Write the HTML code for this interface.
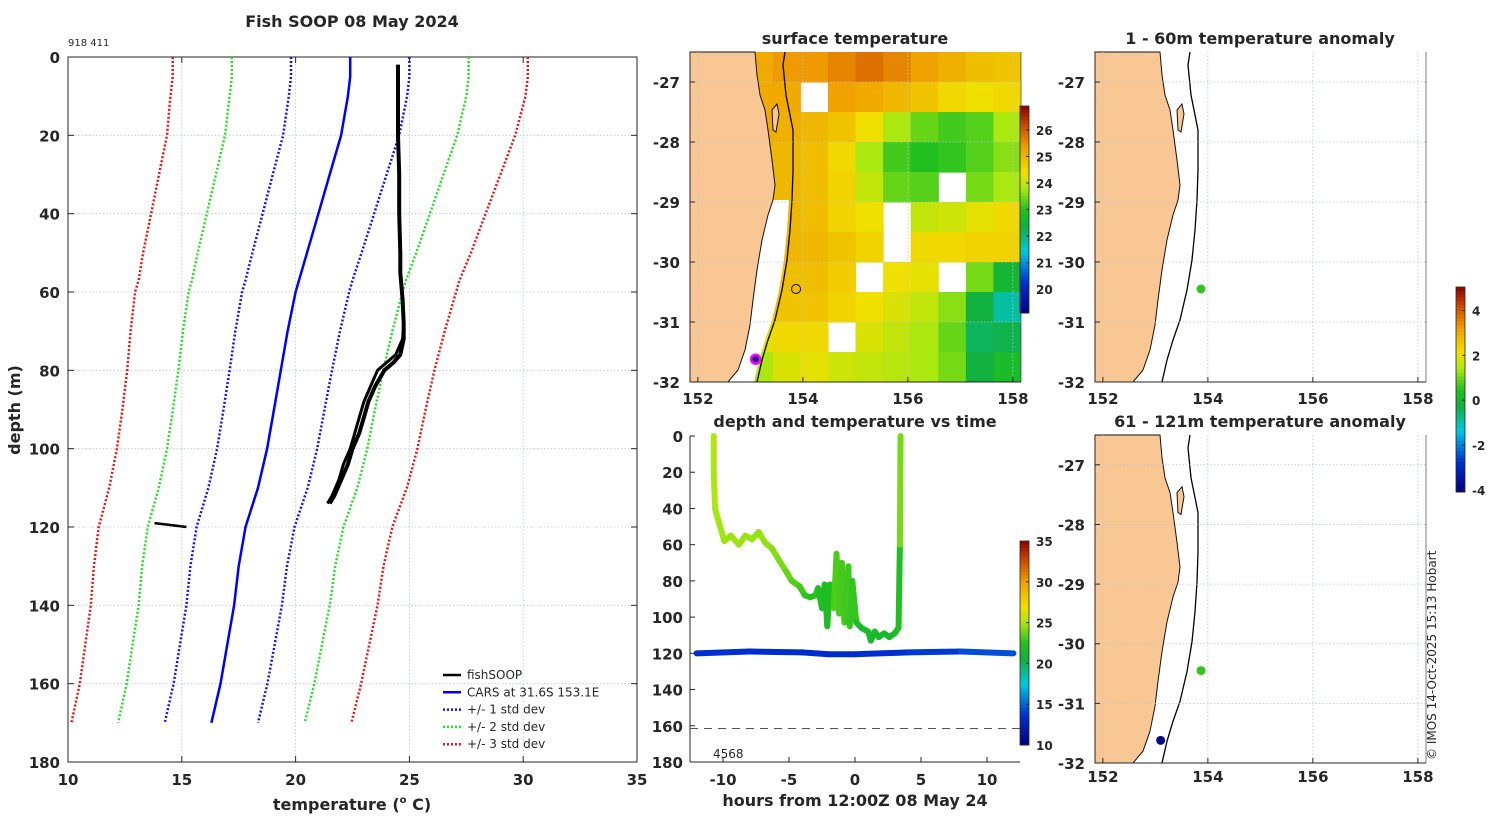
<!DOCTYPE html>
<html><head><meta charset="utf-8"><style>
html,body{margin:0;padding:0;background:#fff;}
svg{display:block;}
</style></head><body>
<svg id="chart" width="1500" height="820" viewBox="0 0 1500 820" xmlns="http://www.w3.org/2000/svg"></svg>
<script>
// ---------- data ----------
const cDepth=[0,5,10,20,30,40,50,57,60,70,80,90,100,110,120,130,140,150,160,170];
const cMean=[22.4,22.4,22.3,22.0,21.5,21.0,20.5,20.15,20.0,19.65,19.35,19.05,18.75,18.35,17.8,17.5,17.3,17.0,16.7,16.3];
const cStd=[2.6,2.6,2.6,2.55,2.5,2.45,2.4,2.35,2.35,2.3,2.25,2.22,2.2,2.18,2.15,2.12,2.1,2.08,2.06,2.05];
const fDepth=[2,10,20,30,40,50,55,62,68,72,76,78,80,84,88,92,96,100,104,108,112,114];
const fTemp=[24.5,24.5,24.5,24.55,24.55,24.6,24.6,24.7,24.75,24.7,24.4,24.0,23.6,23.3,23.0,22.8,22.6,22.4,22.1,21.9,21.6,21.4];
const fTemp2=[24.5,24.5,24.5,24.55,24.55,24.6,24.6,24.7,24.75,24.75,24.6,24.3,23.9,23.5,23.2,23.0,22.8,22.5,22.3,22.0,21.7,21.5];
const sDepth=[119,119.5,120];
const sTemp=[13.8,14.5,15.2];
const tHour=[-10.7,-10.7,-10.6,-10.3,-9.9,-9.4,-8.8,-8.3,-7.8,-7.3,-6.8,-6.3,-5.8,-5.2,-4.8,-4.2,-3.8,-3.4,-3.0,-2.8,-2.5,-2.3,-2.1,-1.9,-1.6,-1.4,-1.2,-1.0,-0.8,-0.5,-0.4,-0.2,0.1,0.5,1.0,1.2,1.5,1.8,2.2,2.6,3.0,3.3,3.4,3.45];
const tDepth=[0,20,40,48,58,55,60,55,57,53,59,62,68,75,80,83,88,89,88,84,95,82,105,82,95,65,98,70,103,72,105,80,103,106,108,113,108,111,109,111,109,106,60,0];
const tTemp=[25.2,25.2,25.0,24.9,24.8,24.8,24.7,24.7,24.7,24.7,24.6,24.5,24.3,24.0,23.6,23.3,22.8,22.6,22.6,22.8,22.2,22.6,22.0,22.6,22.2,24.6,22.0,24.4,21.9,24.2,21.9,23.8,21.9,21.9,21.8,21.7,21.8,21.8,21.8,21.8,21.8,21.9,23.0,25.2];
const bHour=[-12,-8,-4,-2,0,4,8,12];
const bDepth=[120,119,119.5,120.5,120.5,119.5,119,120];
const bTemp=[13.6,13.6,13.5,13.4,13.5,13.8,14.2,14.8];
const sstGrid=[
[24.6,25,25.2,25.4,25.4,25.6,25.8,25.6,25.3,25.1,24.9,24.8],
[24,25,25.2,25.2,null,25.3,25.2,25,24.8,24.5,24.4,24.5],
[24.4,25,25.2,25.1,25.0,24.8,24.4,23.8,23.4,23.2,23.3,23.8],
[24.4,24.9,25.1,25.0,24.9,24.5,23.8,23.2,23.0,23.1,23.3,23.6],
[24.4,24.8,25,25,24.9,24.6,24.0,23.4,23.3,null,23.5,23.8],
[null,24.7,25,25,24.9,24.6,24.4,null,24.0,24.1,24.3,24.5],
[null,24.6,24.9,25,25,24.8,24.6,null,24.5,24.5,24.6,24.6],
[null,24.4,24.8,24.9,24.9,24.7,null,24.4,24.3,null,23.5,22.6],
[null,24.2,24.6,24.8,24.8,24.6,24.4,24.2,24.0,23.6,22.4,21.8],
[null,23.8,24.3,24.5,24.5,null,24.2,24.0,23.8,23.4,22.2,22.3],
[23.2,23.2,23.8,24.2,24.3,24.1,24,23.9,23.8,23.5,22.4,22.8]];
const dotLon=[153.87,153.1];
const dotLat=[-30.45,-31.62];
const anomTop=[0.6,null];
const anomBot=[0.6,-3.9];
const tempTicks=[10,15,20,25,30,35];
const depthTicks=[0,20,40,60,80,100,120,140,160,180];
const hourTicks=[-10,-5,0,5,10];
const lonTicks=[152,154,156,158];
const latTicks=[-27,-28,-29,-30,-31,-32];

// ---------- helpers ----------
const NS='http://www.w3.org/2000/svg';
const svg=document.getElementById('chart');
const FONT='"DejaVu Sans","Liberation Sans",sans-serif';
function mk(tag,attrs,name,parent){
  const el=document.createElementNS(NS,tag);
  for(const k in attrs) el.setAttribute(k,attrs[k]);
  
  
  (parent||svg).appendChild(el);return el;
}
function txt(x,y,s,name,o){
  const t=mk('text',Object.assign({x:x,y:y,'font-family':FONT,'font-size':15,'font-weight':'bold',fill:'#262626','text-anchor':'middle'},o||{}),name);
  t.textContent=s;return t;
}
function ln(x1,y1,x2,y2,name,o){return mk('line',Object.assign({x1:x1,y1:y1,x2:x2,y2:y2,stroke:'#262626','stroke-width':1},o||{}),name);}
const stops=[[0,[0,0,127]],[0.15,[0,48,210]],[0.3,[0,200,224]],[0.42,[16,176,64]],[0.5,[32,192,32]],[0.6,[168,232,16]],[0.68,[240,224,0]],[0.8,[240,160,0]],[0.9,[208,80,0]],[1,[144,0,0]]];
function cmap(t){t=Math.max(0,Math.min(1,t));
  for(let i=1;i<stops.length;i++){if(t<=stops[i][0]){const a=stops[i-1],b=stops[i],f=(t-a[0])/(b[0]-a[0]);
    const c=a[1].map((v,j)=>Math.round(v+(b[1][j]-v)*f));return 'rgb('+c.join(',')+')';}}
  return 'rgb(144,0,0)';}
const GRID={stroke:'#b8c4dc','stroke-width':0.8,'stroke-dasharray':'1.5,2'};

// ---------- left profile plot ----------
const L={x0:68,y0:57,w:569,h:705};
const pxT=t=>L.x0+(t-10)/25*L.w;
const pyD=d=>L.y0+d/180*L.h;
txt(352,27,'Fish SOOP 08 May 2024','profile-title',{'font-size':16});
txt(68,46,'918 411','profile-id',{'font-size':10,'font-weight':'normal','text-anchor':'start'});
tempTicks.forEach(t=>{if(t>10&&t<35)ln(pxT(t),L.y0,pxT(t),L.y0+L.h,'temp-gridline',GRID);});
depthTicks.forEach(d=>{if(d>0&&d<180)ln(L.x0,pyD(d),L.x0+L.w,pyD(d),'depth-gridline',GRID);});
mk('rect',{x:L.x0,y:L.y0,width:L.w,height:L.h,fill:'none',stroke:'#262626','stroke-width':1},'profile-axes-box');
tempTicks.forEach(t=>{ln(pxT(t),L.y0+L.h,pxT(t),L.y0+L.h-6,'temp-tick');ln(pxT(t),L.y0,pxT(t),L.y0+6,'temp-tick-top');
  txt(pxT(t),785,String(t),'temp-tick-label',{'font-size':15});});
depthTicks.forEach(d=>{ln(L.x0,pyD(d),L.x0+6,pyD(d),'depth-tick');ln(L.x0+L.w,pyD(d),L.x0+L.w-6,pyD(d),'depth-tick-right');
  txt(60,pyD(d)+6,String(d),'depth-tick-label',{'font-size':15,'text-anchor':'end'});});
const xl=txt(352,810,'temperature (','x-axis-title',{'font-size':16});
const sup=document.createElementNS(NS,'tspan');sup.setAttribute('font-size','10');sup.setAttribute('dy','-7');sup.textContent='o';xl.appendChild(sup);
const rest=document.createElementNS(NS,'tspan');rest.setAttribute('dy','7');rest.textContent=' C)';xl.appendChild(rest);
txt(20,410,'depth (m)','y-axis-title',{'font-size':16,transform:'rotate(-90 20 410)'});
function prof(k,col,dash,name,w){
  const pts=cDepth.map((d,i)=>pxT(cMean[i]+k*cStd[i]).toFixed(1)+','+pyD(d).toFixed(1)).join(' ');
  mk('polyline',{points:pts,fill:'none',stroke:col,'stroke-width':w,'stroke-dasharray':dash},name);
}
[[-3,'#ee1111'],[3,'#ee1111'],[-2,'#22e022'],[2,'#22e022'],[-1,'#1010ff'],[1,'#1010ff']].forEach(s=>prof(s[0],s[1],'2,2','std-dev-line',2.5));
prof(0,'#0000ff','none','cars-mean-line',2.5);
mk('polyline',{points:fDepth.map((d,i)=>pxT(fTemp[i]).toFixed(1)+','+pyD(d).toFixed(1)).join(' '),fill:'none',stroke:'#000','stroke-width':3,'stroke-linejoin':'round'},'fishsoop-downcast');
mk('polyline',{points:fDepth.map((d,i)=>pxT(fTemp2[i]).toFixed(1)+','+pyD(d).toFixed(1)).join(' '),fill:'none',stroke:'#000','stroke-width':4,'stroke-linejoin':'round'},'fishsoop-upcast');
mk('polyline',{points:sDepth.map((d,i)=>pxT(sTemp[i]).toFixed(1)+','+pyD(d).toFixed(1)).join(' '),fill:'none',stroke:'#000','stroke-width':2.5},'fishsoop-bottom-segment');
const leg=[['fishSOOP','#000','none'],['CARS at 31.6S 153.1E','#0000ff','none'],['+/- 1 std dev','#1010ff','2,2'],['+/- 2 std dev','#22e022','2,2'],['+/- 3 std dev','#ee1111','2,2']];
leg.forEach((e,i)=>{const y=675+i*17.3;
  ln(443,y,461,y,'legend-swatch',{stroke:e[1],'stroke-width':2.5,'stroke-dasharray':e[2]});
  txt(467,y+4,e[0],'legend-entry',{'font-size':12,'font-weight':'normal','text-anchor':'start'});});

// ---------- depth vs time ----------
const T={x0:690,y0:436,w:330,h:326};
const pxH=h=>855+h*13.2;
const pyT=d=>T.y0+d/180*T.h;
txt(855,427,'depth and temperature vs time','time-plot-title',{'font-size':16});
ln(T.x0,T.y0,T.x0,T.y0+T.h,'time-y-axis');ln(T.x0,T.y0+T.h,T.x0+T.w,T.y0+T.h,'time-x-axis');
depthTicks.forEach(d=>{ln(T.x0,pyT(d),T.x0+5,pyT(d),'time-depth-tick');txt(683,pyT(d)+6,String(d),'time-depth-tick-label',{'font-size':15,'text-anchor':'end'});});
hourTicks.forEach(h=>{ln(pxH(h),T.y0+T.h,pxH(h),T.y0+T.h-5,'hour-tick');txt(pxH(h),785,String(h),'hour-tick-label',{'font-size':15});});
txt(855,806,'hours from 12:00Z 08 May 24','time-x-axis-title',{'font-size':16});
ln(T.x0,pyT(161.5),T.x0+T.w,pyT(161.5),'bottom-depth-line',{stroke:'#555','stroke-dasharray':'8,6'});
txt(713,758,'4568','bottom-depth-label',{'font-size':12,'font-weight':'normal','text-anchor':'start'});
const cT=t=>cmap((t-10)/25);
for(let i=0;i<bHour.length-1;i++){
  ln(pxH(bHour[i]),pyT(bDepth[i]),pxH(bHour[i+1]),pyT(bDepth[i+1]),'sensor-bottom-track',{stroke:cT((bTemp[i]+bTemp[i+1])/2),'stroke-width':6,'stroke-linecap':'round'});}
for(let i=0;i<tHour.length-1;i++){
  ln(pxH(tHour[i]),pyT(tDepth[i]),pxH(tHour[i+1]),pyT(tDepth[i+1]),'sensor-depth-track',{stroke:cT((tTemp[i]+tTemp[i+1])/2),'stroke-width':6,'stroke-linecap':'round'});}
function cbar(x,y0,y1,vmin,vmax,ticks,name){
  const n=60,h=(y1-y0)/n;
  for(let i=0;i<n;i++)mk('rect',{x:x,y:(y1-(i+1)*h).toFixed(2),width:9,height:(h+0.5).toFixed(2),fill:cmap((i+0.5)/n)},name+'-segment');
  mk('rect',{x:x,y:y0,width:9,height:y1-y0,fill:'none',stroke:'#262626','stroke-width':0.8},name+'-frame');
  ticks.forEach(v=>{const y=y1-(v-vmin)/(vmax-vmin)*(y1-y0);ln(x+9,y,x+6,y,name+'-tick');
    txt(x+16,y+5,String(v),name+'-label',{'font-size':12,'text-anchor':'start'});});
}
cbar(1020,541,745,10,35,[10,15,20,25,30,35],'temp-colorbar');

// ---------- maps ----------
const coast=[[65,0],[67,23],[70,43],[75,58],[78,78],[82,108],[85,133],[83,148],[78,163],[72,188],[67,218],[63,248],[60,273],[55,298],[48,318],[38,330]];
const shelf=[[95,0],[93,13],[96,43],[103,78],[103,118],[102,148],[100,178],[97,208],[92,238],[85,268],[78,288],[72,308],[67,330]];
const island=[[82,58],[87,52],[89,62],[86,80],[83,78]];
let clipN=0;
function drawMap(ox,oy,h,title,labelY,sst,anom,name){
  const lon=v=>ox+(v-151.85)*52.5, lat=v=>oy+(-26.5-v)*(h/5.5);
  txt(ox+165,oy-8,title,name+'-title',{'font-size':16});
  const g=mk('g',{},name);
  if(sst){
    const id='clip'+(clipN++);const cp=mk('clipPath',{id:id},'map-clip',g);mk('rect',{x:ox,y:oy,width:331,height:h},'map-clip-rect',cp);
    const gg=mk('g',{'clip-path':'url(#'+id+')'},'sst-grid',g);
    const cw=331/12,rh=h/11;
    sst.forEach((row,r)=>row.forEach((v,c)=>{if(v!==null)mk('rect',{x:(ox+c*cw).toFixed(2),y:(oy+r*rh).toFixed(2),width:(cw+0.6).toFixed(2),height:(rh+0.6).toFixed(2),fill:cmap((v-19.1)/7.8)},'sst-cell',gg);}));
    const wp=coast.filter(p=>p[1]>=140).concat(shelf.filter(p=>p[1]>=140).reverse().map(p=>[p[0]-3,p[1]]));
    mk('polygon',{points:wp.map(p=>(ox+p[0])+','+(oy+p[1]*h/330)).join(' '),fill:'#fff'},'shelf-missing-data',g);
  }
  latTicks.forEach(v=>{if(v>-32)ln(ox,lat(v),ox+331,lat(v),'lat-gridline',GRID);});
  lonTicks.forEach(v=>ln(lon(v),oy,lon(v),oy+h,'lon-gridline',GRID));
  const land=[[0,0]].concat(coast,[[0,330]]);
  mk('polygon',{points:land.map(p=>(ox+p[0])+','+(oy+p[1]*h/330)).join(' '),fill:'#f9c794',stroke:'#111','stroke-width':1},'land',g);
  mk('polygon',{points:island.map(p=>(ox+p[0])+','+(oy+p[1]*h/330)).join(' '),fill:'#f9c794',stroke:'#111','stroke-width':1},'island',g);
  mk('polyline',{points:shelf.map(p=>(ox+p[0])+','+(oy+p[1]*h/330)).join(' '),fill:'none',stroke:'#000','stroke-width':1.3},'shelf-contour',g);
  ln(ox,oy,ox,oy+h,name+'-y-axis');ln(ox,oy+h,ox+331,oy+h,name+'-x-axis');
  ln(ox+331,oy,ox+331,oy+h,name+'-right-edge',{stroke:'#262626','stroke-width':0.6});
  latTicks.forEach(v=>{ln(ox,lat(v),ox+5,lat(v),'lat-tick');txt(ox-10,lat(v)+6,String(v),'lat-tick-label',{'font-size':15,'text-anchor':'end'});});
  lonTicks.forEach(v=>{ln(lon(v),oy+h,lon(v),oy+h-5,'lon-tick');txt(lon(v),labelY,String(v),'lon-tick-label',{'font-size':15});});
  if(sst){
    mk('circle',{cx:lon(dotLon[0]),cy:lat(dotLat[0]),r:4.5,fill:'none',stroke:'#000','stroke-width':1},'sensor-location',g);
    mk('circle',{cx:lon(dotLon[1]),cy:lat(dotLat[1]),r:4.5,fill:'#1a1a8a',stroke:'#ff00ff','stroke-width':2.5},'sensor-bottom-location',g);
  }
  if(anom){anom.forEach((a,i)=>{if(a!==null)mk('circle',{cx:lon(dotLon[i]),cy:lat(dotLat[i]),r:4.5,fill:cmap((a+4.1)/9.15)},'anomaly-dot',g);});}
}
drawMap(690,52,330,'surface temperature',404,sstGrid,null,'sst-map');
cbar(1020,106,313,19.1,26.9,[20,21,22,23,24,25,26],'sst-colorbar');
drawMap(1095,52,330,'1 - 60m temperature anomaly',404,null,anomTop,'anomaly-map-shallow');
drawMap(1095,435,328,'61 - 121m temperature anomaly',782,null,anomBot,'anomaly-map-deep');
cbar(1456,287,492,-4.1,5.05,[-4,-2,0,2,4],'anomaly-colorbar');
txt(1436,760,'© IMOS 14-Oct-2025 15:13 Hobart','copyright-note',{'font-size':12,'font-weight':'normal','text-anchor':'start',transform:'rotate(-90 1436 760)'});
</script>
</body></html>
